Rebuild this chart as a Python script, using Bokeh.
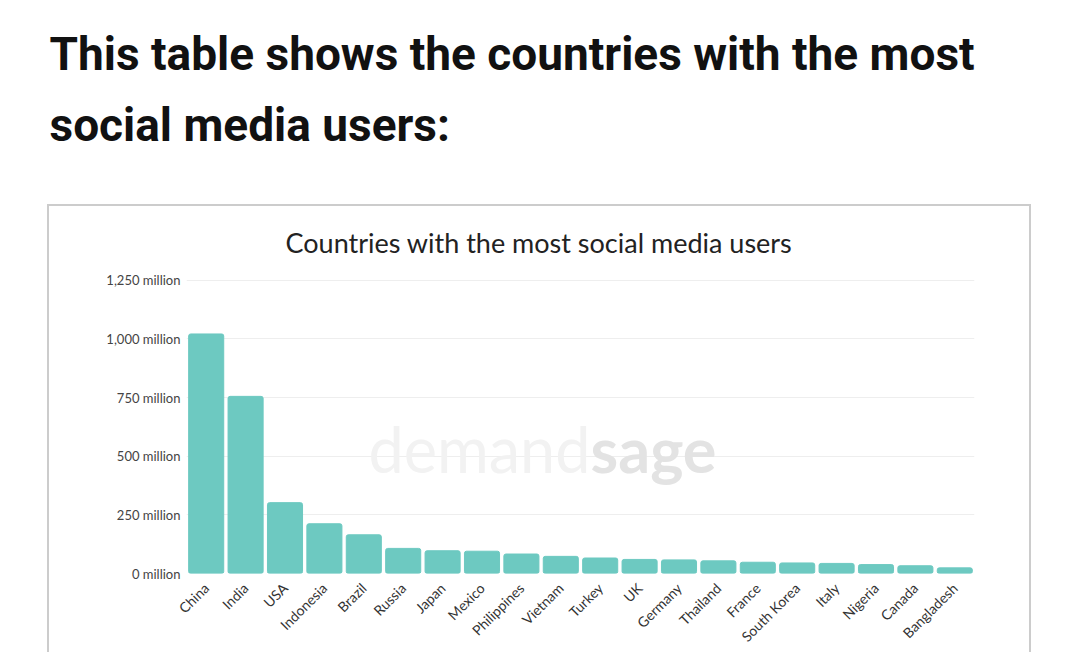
import math
from bokeh.plotting import figure
from bokeh.layouts import column, row
from bokeh.models import Range1d, FactorRange, FixedTicker, Label, Spacer
from bokeh.core.properties import value
from bokeh.embed import file_html
from bokeh.resources import INLINE

countries = ["China", "India", "USA", "Indonesia", "Brazil", "Russia", "Japan", "Mexico",
             "Philippines", "Vietnam", "Turkey", "UK", "Germany", "Thailand", "France",
             "South Korea", "Italy", "Nigeria", "Canada", "Bangladesh"]
users_million = [1021, 755, 302, 212, 165, 107, 97, 95, 83, 73, 66, 60, 58, 54, 48, 45, 43, 38, 33, 24]
y_ticks = [0, 250, 500, 750, 1000, 1250]
y_tick_labels = ["0 million", "250 million", "500 million", "750 million", "1,000 million", "1,250 million"]
heading_lines = ["This table shows the countries with the most", "social media users:"]
chart_title = "Countries with the most social media users"

# ---- heading figure (pixel-like coordinates, y downwards) ----
HA = 204
head = figure(width=1080, height=HA, output_backend="svg", toolbar_location=None,
              x_range=Range1d(0, 1080), y_range=Range1d(HA, 0),
              min_border=0, min_border_left=0, min_border_right=0, min_border_top=0, min_border_bottom=0)
head.axis.visible = False
head.grid.visible = False
head.outline_line_color = None
head.background_fill_color = "white"
head.border_fill_color = "white"
head.text(x=[49, 49], y=[53, 124], text=heading_lines, text_baseline="alphabetic",
          text_font=value("Roboto"), text_font_style="bold", text_font_size="46px",
          text_color="#111111")

# ---- chart figure (boxed) ----
WB, HB = 984, 448
p = figure(width=WB, height=HB, output_backend="svg", toolbar_location=None,
           x_range=FactorRange(*countries, range_padding=0), y_range=Range1d(0, 1300),
           min_border_left=137, min_border_right=59, min_border_top=62, min_border_bottom=81,
           styles={"border": "2px solid #cccccc", "border-bottom": "none"})
p.background_fill_color = "white"
p.border_fill_color = "white"
p.outline_line_color = None

p.title.text = chart_title
p.title.align = "left"
p.title.offset = 99
p.title.standoff = 19
p.title.text_font = "Lato"
p.title.text_font_style = "normal"
p.title.text_font_size = "27px"
p.title.text_color = "#222222"

p.vbar(x=countries, top=users_million, width=0.89, color="#6DC9C1", border_radius=2)

p.yaxis.ticker = FixedTicker(ticks=y_ticks)
p.yaxis.major_label_overrides = {t: l for t, l in zip(y_ticks, y_tick_labels)}
p.yaxis.axis_line_color = None
p.yaxis.major_tick_line_color = None
p.yaxis.major_tick_out = 0
p.yaxis.major_tick_in = 0
p.yaxis.minor_tick_line_color = None
p.yaxis.major_label_text_font = "Lato"
p.yaxis.major_label_text_font_size = "13px"
p.yaxis.major_label_text_color = "#444444"
p.yaxis.major_label_standoff = 6

p.xaxis.axis_line_color = None
p.xaxis.major_tick_line_color = None
p.xaxis.major_tick_out = 0
p.xaxis.major_tick_in = 0
p.xaxis.major_label_orientation = math.pi / 4
p.xaxis.major_label_text_font = "Lato"
p.xaxis.major_label_text_font_size = "14px"
p.xaxis.major_label_text_color = "#333333"
p.xaxis.major_label_standoff = 12

p.xgrid.grid_line_color = None
p.ygrid.grid_line_color = "#eeeeee"
p.ygrid.ticker = FixedTicker(ticks=y_ticks)

p.add_layout(Label(x=404, y=125, x_units="screen", y_units="screen", text="demand",
                   text_font="Lato", text_font_size="63px", text_align="right",
                   text_color="#f2f2f2", text_baseline="alphabetic", level="underlay"))
p.add_layout(Label(x=404, y=125, x_units="screen", y_units="screen", text="sage",
                   text_font="Lato", text_font_size="63px", text_align="left", text_font_style="bold",
                   text_color="#e3e3e3", text_baseline="alphabetic", level="underlay"))

layout = column(head, row(Spacer(width=47, height=HB), p))
open("out.html", "w").write(file_html(layout, INLINE))
